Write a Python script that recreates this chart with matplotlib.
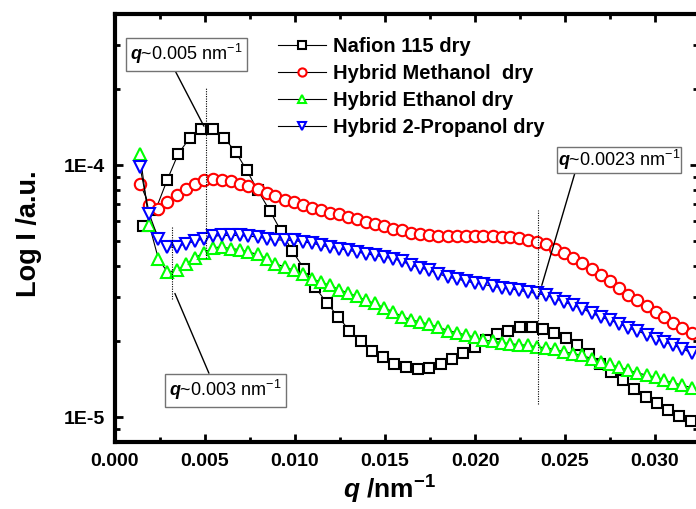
import numpy as np
import matplotlib
matplotlib.use("Agg")
import matplotlib.pyplot as plt
from matplotlib.ticker import FixedLocator, LogLocator, MultipleLocator, FuncFormatter, NullFormatter

plt.rcParams['font.family'] = ['Liberation Sans', 'DejaVu Sans']
plt.rcParams['mathtext.fontset'] = 'custom'
plt.rcParams['mathtext.rm'] = 'Liberation Sans'
plt.rcParams['mathtext.it'] = 'Liberation Sans:italic:bold'
plt.rcParams['mathtext.bf'] = 'Liberation Sans:bold'

# Nafion 115 dry (q in nm^-1, intensity in units of 1E-5 a.u.)
q_nafion = [0.00157, 0.00225, 0.00291, 0.00352, 0.00417, 0.00478, 0.00543, 0.00607,
            0.00671, 0.00732, 0.00793, 0.00861, 0.00922, 0.00985, 0.01052, 0.01111,
            0.01176, 0.01241, 0.01302, 0.01365, 0.01429, 0.01491, 0.01552, 0.01615,
            0.01682, 0.01746, 0.01811, 0.01874, 0.01935, 0.02000, 0.02061, 0.02124,
            0.02185, 0.02250, 0.02315, 0.02379, 0.02439, 0.02506, 0.02568, 0.02633,
            0.02694, 0.02756, 0.02821, 0.02885, 0.02950, 0.03009, 0.03074, 0.03135,
            0.03198]
I_nafion = [5.74, 6.63, 8.78, 11.13, 12.88, 13.98, 13.90, 12.83, 11.29, 9.55, 7.96,
            6.59, 5.49, 4.57, 3.87, 3.29, 2.85, 2.50, 2.21, 2.01, 1.84, 1.73, 1.63,
            1.58, 1.56, 1.57, 1.63, 1.70, 1.80, 1.90, 2.02, 2.14, 2.20, 2.28, 2.28,
            2.25, 2.16, 2.07, 1.93, 1.78, 1.63, 1.51, 1.40, 1.29, 1.20, 1.14, 1.07,
            1.01, 0.97]

# hybrid membranes share one q grid
q_hybrid = [0.00139, 0.00191, 0.00241, 0.00291, 0.00343, 0.00394, 0.00444, 0.00494,
            0.00543, 0.00593, 0.00643, 0.00694, 0.00741, 0.00793, 0.00843, 0.00889,
            0.00944, 0.00994, 0.01043, 0.01093, 0.01143, 0.01194, 0.01246, 0.01296,
            0.01346, 0.01394, 0.01444, 0.01494, 0.01546, 0.01596, 0.01644, 0.01694,
            0.01744, 0.01796, 0.01848, 0.01898, 0.01948, 0.02000, 0.02046, 0.02098,
            0.02148, 0.02194, 0.02246, 0.02296, 0.02346, 0.02394, 0.02444, 0.02494,
            0.02546, 0.02596, 0.02648, 0.02698, 0.02750, 0.02802, 0.02852, 0.02902,
            0.02954, 0.03004, 0.03052, 0.03102, 0.03152, 0.03204]
I_methanol = [8.46, 6.94, 6.73, 7.15, 7.60, 8.08, 8.46, 8.72, 8.80, 8.72, 8.64, 8.46,
              8.25, 8.03, 7.76, 7.53, 7.31, 7.15, 6.98, 6.80, 6.63, 6.49, 6.39, 6.24,
              6.11, 5.96, 5.83, 5.73, 5.61, 5.52, 5.39, 5.32, 5.27, 5.23, 5.23, 5.23,
              5.23, 5.23, 5.23, 5.23, 5.19, 5.19, 5.15, 5.07, 4.96, 4.86, 4.67, 4.50,
              4.29, 4.09, 3.89, 3.66, 3.46, 3.27, 3.07, 2.91, 2.76, 2.62, 2.49, 2.37,
              2.26, 2.16]
I_ethanol = [11.13, 5.78, 4.26, 3.77, 3.83, 4.05, 4.30, 4.49, 4.71, 4.74, 4.67, 4.63,
             4.53, 4.43, 4.26, 4.07, 3.95, 3.83, 3.69, 3.55, 3.44, 3.34, 3.21, 3.11,
             3.02, 2.91, 2.83, 2.72, 2.62, 2.51, 2.44, 2.39, 2.34, 2.28, 2.21, 2.17,
             2.12, 2.08, 2.03, 2.00, 1.98, 1.96, 1.94, 1.93, 1.90, 1.89, 1.86, 1.82,
             1.79, 1.76, 1.71, 1.66, 1.62, 1.58, 1.54, 1.50, 1.47, 1.44, 1.40, 1.37,
             1.34, 1.31]
I_propanol = [9.85, 6.39, 5.12, 4.74, 4.74, 4.89, 4.99, 5.12, 5.23, 5.27, 5.27, 5.27,
              5.23, 5.20, 5.12, 5.07, 5.04, 5.04, 4.96, 4.92, 4.81, 4.74, 4.67, 4.60,
              4.53, 4.46, 4.39, 4.33, 4.26, 4.16, 4.01, 3.93, 3.83, 3.72, 3.60, 3.55,
              3.47, 3.41, 3.37, 3.31, 3.27, 3.24, 3.19, 3.14, 3.10, 3.05, 2.96, 2.87,
              2.78, 2.70, 2.59, 2.50, 2.43, 2.35, 2.26, 2.20, 2.13, 2.05, 1.99, 1.93,
              1.87, 1.80]

series = [
    ("Nafion 115 dry", q_nafion, I_nafion, "s", "black", 7.6),
    ("Hybrid Methanol  dry", q_hybrid, I_methanol, "o", "red", 8.2),
    ("Hybrid Ethanol dry", q_hybrid, I_ethanol, "^", "#00ff00", 8.6),
    ("Hybrid 2-Propanol dry", q_hybrid, I_propanol, "v", "blue", 8.6),
]

fig = plt.figure(figsize=(6.96, 5.09), dpi=100)
ax = fig.add_axes([0.1652, 0.1322, 0.838, 0.8411])

for label, q, inten, mk, col, size in series:
    ax.plot(q, np.array(inten) * 1e-5, color="black", lw=0.8,
            marker=mk, ms=size, mfc="white", mec=col, mew=1.5, label=label)

ax.set_yscale("log")
ax.set_xlim(0, 0.0324)
ax.set_ylim(8e-6, 4e-4)

ax.xaxis.set_major_locator(MultipleLocator(0.005))
ax.xaxis.set_minor_locator(MultipleLocator(0.0025))
ax.xaxis.set_major_formatter(FuncFormatter(lambda v, p: f"{v:.3f}"))
ax.yaxis.set_major_locator(FixedLocator([1e-5, 1e-4]))
ax.yaxis.set_minor_locator(LogLocator(base=10, subs=np.arange(2, 10)))
ax.yaxis.set_major_formatter(FuncFormatter(lambda v, p: f"1E{int(round(np.log10(v)))}"))
ax.yaxis.set_minor_formatter(NullFormatter())

ax.tick_params(which="both", direction="in", top=True, right=True, width=2)
ax.tick_params(which="major", length=6, labelsize=14)
ax.tick_params(axis="x", which="major", pad=8)
ax.tick_params(axis="y", which="major", pad=7)
ax.tick_params(which="minor", length=3.5)
for t in ax.get_xticklabels() + ax.get_yticklabels():
    t.set_fontweight("bold")
for s in ax.spines.values():
    s.set_linewidth(3)

ax.set_xlabel(r"$q$ /nm$^{\mathbf{-1}}$", fontsize=19, fontweight="bold")
ax.xaxis.set_label_coords(0.47, -0.074)
ax.set_ylabel("Log I /a.u.", fontsize=19.5, fontweight="bold")
ax.yaxis.set_label_coords(-0.125, 0.486)

leg = ax.legend(loc="upper left", bbox_to_anchor=(0.2795, 0.945), frameon=False,
                prop={"size": 14.5, "weight": "bold"}, handlelength=2.4,
                handletextpad=0.35, labelspacing=0.4, borderpad=0,
                borderaxespad=0, markerscale=0.72)

# peak markers
dot = dict(color="black", lw=0.8, linestyle=(0, (1, 1.2)))
ax.vlines(0.00505, 4.28e-5, 2.02e-4, **dot)
ax.vlines(0.00315, 2.96e-5, 5.69e-5, **dot)
ax.vlines(0.02352, 1.13e-5, 6.63e-5, **dot)

box = dict(boxstyle="square,pad=0.25", fc="white", ec="0.45", lw=1)
arrow = dict(arrowstyle="-", color="black", lw=1, shrinkA=0, shrinkB=0)
ax.annotate(r"$q$~0.005 nm$^{-1}$", xy=(0.00494, 1.43e-4), xytext=(0.00396, 2.76e-4),
            ha="center", va="center", fontsize=13, bbox=box,
            arrowprops=dict(arrow, relpos=(0.38, 0)))
ax.annotate(r"$q$~0.003 nm$^{-1}$", xy=(0.00333, 3.10e-5), xytext=(0.00615, 1.28e-5),
            ha="center", va="center", fontsize=13, bbox=box,
            arrowprops=dict(arrow, relpos=(0.37, 1)))
box3 = dict(box, boxstyle="square,pad=0.05")
ax.annotate(r"$q$~0.0023 nm$^{-1}$", xy=(0.02371, 3.34e-5), xytext=(0.02801, 1.047e-4),
            ha="center", va="center", fontsize=13, bbox=box3,
            arrowprops=dict(arrow, relpos=(0.14, 0)))

fig.savefig("out.png", dpi=100)
